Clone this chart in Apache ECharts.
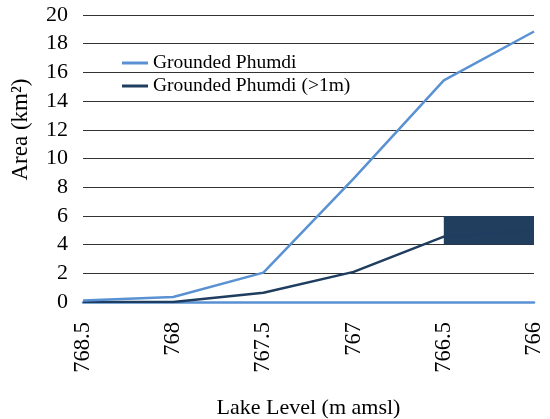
<!DOCTYPE html>
<html><head><meta charset="utf-8">
<script src="https://cdn.jsdelivr.net/npm/echarts@6/dist/echarts.min.js"></script>
<style>html,body{margin:0;padding:0;background:#fff}#c{width:550px;height:419px}</style>
</head><body><div id="c"></div>
<script>
const categories = ['768.5','768','767.5','767','766.5','766'];
const groundedPhumdi = [0.1, 0.35, 2.05, 8.6, 15.45, 18.85];
const groundedPhumdiOver1m = [0, 0, 0.65, 2.1, 4.55, 5.0];
const yTicks = {min: 0, max: 20, interval: 2};
const boxRange = {x: ['766.5','766'], y: [4, 6]};

const FONT = 'Liberation Serif';
const chart = echarts.init(document.getElementById('c'));
chart.setOption({
  animation: false,
  textStyle: {fontFamily: FONT},
  grid: {left: 83, right: 16, top: 15, bottom: 117, containLabel: false, outerBoundsMode: 'none'},
  legend: {
    orient: 'vertical', left: 117, top: 48, itemGap: 3,
    itemWidth: 26, itemHeight: 3, icon: 'rect',
    textStyle: {fontFamily: FONT, fontSize: 19.5, color: '#000'},
    data: ['Grounded Phumdi', 'Grounded Phumdi (>1m)']
  },
  xAxis: {
    type: 'category', data: categories, boundaryGap: false,
    name: 'Lake Level (m amsl)', nameLocation: 'middle', nameGap: 95,
    nameTextStyle: {fontFamily: FONT, fontSize: 22, color: '#000'},
    axisLine: {lineStyle: {color: '#5a91d2', width: 2.5}},
    axisTick: {show: false},
    axisLabel: {rotate: 90, fontFamily: FONT, fontSize: 22.5, color: '#000', margin: 20}
  },
  yAxis: {
    type: 'value', min: yTicks.min, max: yTicks.max, interval: yTicks.interval,
    name: 'Area (km²)', nameLocation: 'middle', nameGap: 51,
    nameTextStyle: {fontFamily: FONT, fontSize: 23, color: '#000', padding: [0, 0, 0, 58]},
    axisLine: {show: false}, axisTick: {show: false},
    axisLabel: {fontFamily: FONT, fontSize: 22, color: '#000', margin: 15},
    splitLine: {lineStyle: {color: '#333', width: 1}}
  },
  series: [
    {
      name: 'Grounded Phumdi', type: 'line', data: groundedPhumdi,
      symbol: 'none', lineStyle: {color: '#5a91d2', width: 2.5}, itemStyle: {color: '#5a91d2'}, z: 3
    },
    {
      name: 'Grounded Phumdi (>1m)', type: 'line', data: groundedPhumdiOver1m,
      symbol: 'none', lineStyle: {color: '#1f3d5f', width: 2.5}, itemStyle: {color: '#1f3d5f'}, z: 2,
      markArea: {
        silent: true,
        itemStyle: {color: '#213e5f', opacity: 1},
        data: [[{xAxis: boxRange.x[0], yAxis: boxRange.y[1]}, {xAxis: boxRange.x[1], yAxis: boxRange.y[0]}]]
      }
    }
  ]
});
</script></body></html>
